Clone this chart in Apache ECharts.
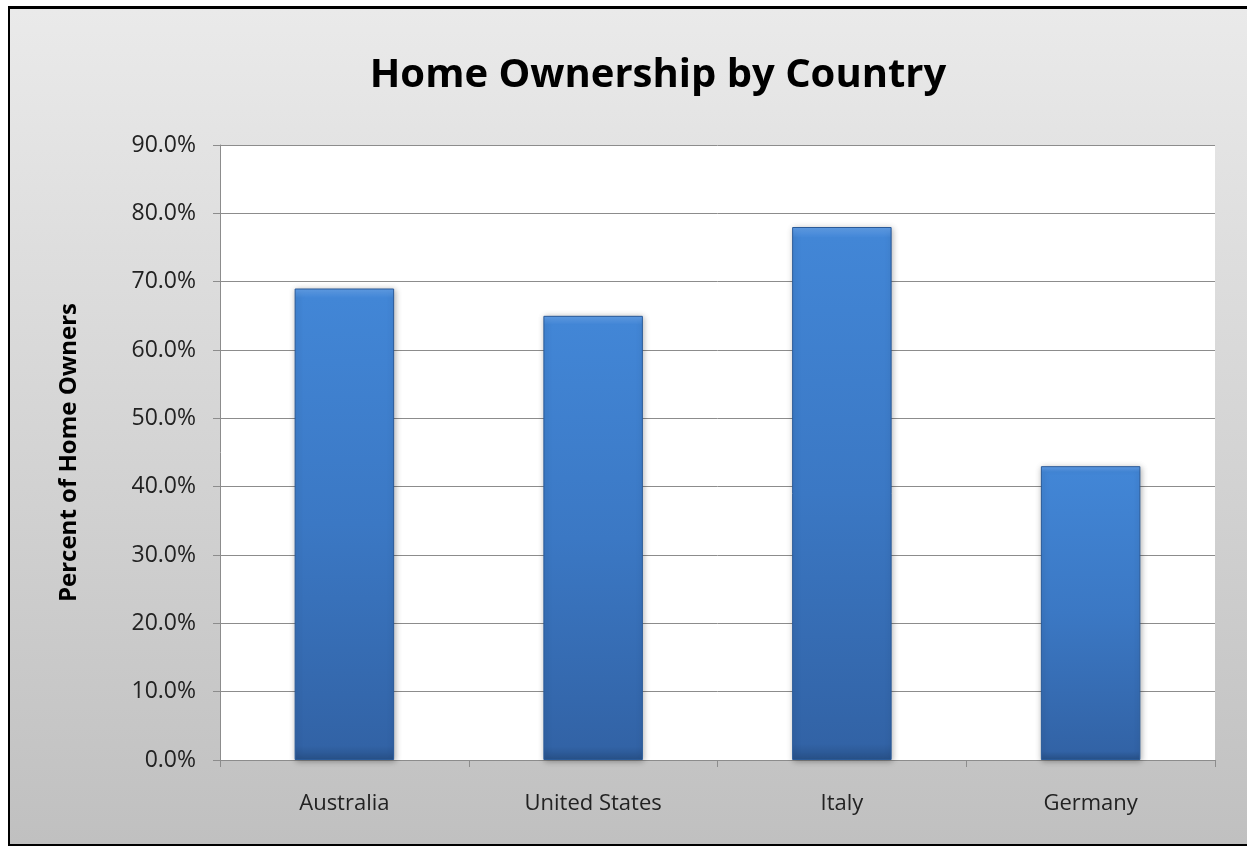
<!DOCTYPE html>
<html>
<head>
<meta charset="utf-8">
<script src="https://cdn.jsdelivr.net/npm/echarts@6/dist/echarts.min.js"></script>
<style>
  html, body { margin: 0; padding: 0; background: #fff; overflow: hidden; width: 1247px; height: 846px; }
  #frame {
    position: absolute; left: 8px; top: 6px; width: 1260px; height: 835px;
    border-left: 2px solid #000; border-top: 3px solid #000; border-bottom: 2px solid #000;
    background: linear-gradient(to bottom, #eaeaea, #c0c0c0);
  }
  #chart { position: absolute; left: 0; top: 0; width: 1247px; height: 846px; }
</style>
</head>
<body>
<div id="frame"></div>
<div id="chart"></div>
<script>
// chart data
const countries = ['Australia', 'United States', 'Italy', 'Germany']
const ownership = [0.69, 0.65, 0.78, 0.43]

const myChart = echarts.init(document.getElementById('chart'))
const font = '"Open Sans", "Liberation Sans", sans-serif'

const option = {
  backgroundColor: 'transparent',
  animation: false,
  title: {
    text: 'Home Ownership by Country',
    left: 653,
    textAlign: 'center',
    top: 51,
    textStyle: { fontFamily: font, fontSize: 40, fontWeight: 'bold', color: '#000' }
  },
  grid: {
    left: 220,
    right: 32,
    top: 145,
    bottom: 86,
    show: true,
    backgroundColor: '#fff',
    borderWidth: 0
  },
  xAxis: {
    type: 'category',
    data: countries,
    axisLine: { lineStyle: { color: '#8c8c8c', width: 1 } },
    axisTick: { show: true, length: 7, lineStyle: { color: '#8c8c8c' } },
    axisLabel: { fontFamily: font, fontSize: 22, color: '#222', margin: 33 }
  },
  yAxis: {
    type: 'value',
    min: 0,
    max: 0.9,
    interval: 0.1,
    name: 'Percent of Home Owners',
    nameLocation: 'middle',
    nameGap: 139,
    nameTextStyle: { fontFamily: font, fontSize: 24, fontWeight: 'bold', color: '#000' },
    axisLine: { show: true, lineStyle: { color: '#8c8c8c', width: 1 } },
    axisTick: { show: true, length: 7, lineStyle: { color: '#8c8c8c' } },
    splitLine: { lineStyle: { color: '#8c8c8c', width: 1 } },
    axisLabel: {
      fontFamily: font,
      fontSize: 23,
      color: '#222',
      margin: 24,
      formatter: v => (v * 100).toFixed(1) + '%'
    }
  },
  series: [
    {
      type: 'bar',
      data: ownership,
      barWidth: '40%',
      itemStyle: {
        color: {
          type: 'linear', x: 0, y: 0, x2: 0, y2: 1,
          colorStops: [
            { offset: 0, color: '#62a0ea' },
            { offset: 0.02, color: '#4286d6' },
            { offset: 0.5, color: '#3b78c4' },
            { offset: 0.97, color: '#3263a6' },
            { offset: 1, color: '#28528a' }
          ]
        },
        borderColor: '#2a5a98',
        borderWidth: 1,
        shadowColor: 'rgba(0,0,0,0.3)',
        shadowBlur: 6,
        shadowOffsetX: 1,
        shadowOffsetY: 1
      }
    }
  ]
}

myChart.setOption(option)
</script>
</body>
</html>
